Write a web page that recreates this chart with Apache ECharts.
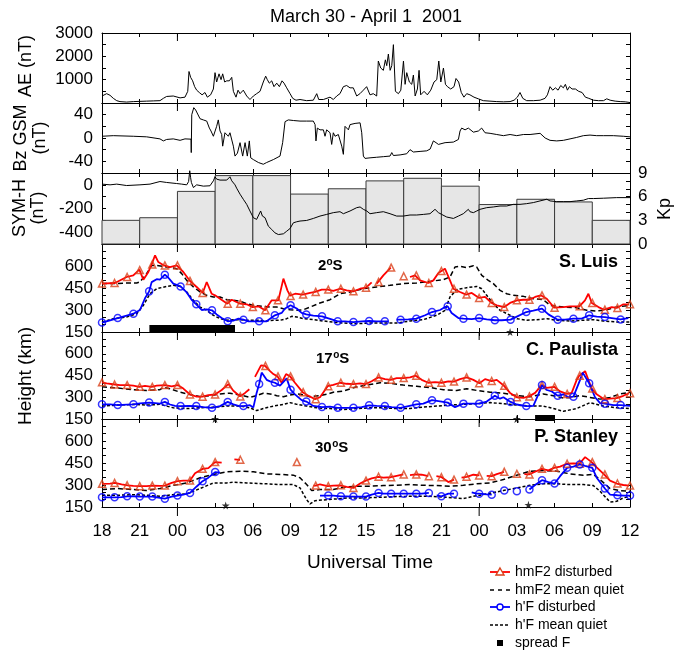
<!DOCTYPE html>
<html>
<head>
<meta charset="utf-8">
<script src="https://cdn.jsdelivr.net/npm/echarts/dist/echarts.min.js"></script>
<style>
html, body { margin: 0; padding: 0; background: #fff; }
#chart { width: 676px; height: 654px; }
</style>
</head>
<body>
<div id="chart"></div>
<script>
// Time is given in hours after 18 UT on 30 March 2001 (0 .. 42 h).
const utTickLabels = ['18','21','00','03','06','09','12','15','18','21','00','03','06','09','12'];
const dayBoundaryHours = [6, 30];

const aeTickLabels = [1000, 2000, 3000];
const bzTickLabels = [-40, 0, 40];
const symTickLabels = [-400, -200, 0];
const kpTickLabels = [0, 3, 6, 9];
const heightTickLabels = [150, 300, 450, 600];

// AE index (nT)
const aeIndex = [[0,300],[0.37,400],[0.64,330],[0.9,200],[1.17,100],[1.43,60],[1.96,40],[2.49,60],[3.02,70],[3.55,80],[4.08,90],[4.61,100],[4.88,200],[5.14,280],[5.67,300],[6.21,220],[6.6,250],[6.82,500],[6.92,1350],[7.05,1100],[7.21,950],[7.37,700],[7.53,550],[7.74,450],[7.96,350],[8.19,450],[8.38,250],[8.64,350],[8.86,600],[8.99,1300],[9.12,900],[9.31,1250],[9.47,1000],[9.6,1250],[9.76,900],[9.92,950],[10.13,950],[10.32,1100],[10.45,500],[10.66,250],[10.82,550],[10.98,400],[11.24,550],[11.51,300],[11.77,150],[12.04,300],[12.3,400],[12.57,500],[12.83,900],[13.02,1150],[13.15,1000],[13.31,850],[13.5,950],[13.68,700],[13.9,850],[14.11,700],[14.32,950],[14.48,850],[14.69,650],[14.96,400],[15.17,200],[15.43,120],[15.75,150],[16.28,100],[16.81,120],[17.08,400],[17.24,150],[17.61,150],[18.14,250],[18.4,150],[18.67,300],[18.93,400],[19.2,700],[19.46,750],[19.73,650],[19.99,650],[20.26,300],[20.52,400],[20.79,550],[21.05,700],[21.32,350],[21.58,400],[21.85,300],[21.98,1800],[22.17,1500],[22.38,1400],[22.54,1850],[22.65,1600],[22.78,2100],[22.92,1400],[23.05,1600],[23.18,2500],[23.34,500],[23.58,400],[23.77,550],[23.98,1800],[24.11,800],[24.24,1300],[24.45,900],[24.64,800],[24.77,1200],[24.91,300],[25.09,600],[25.22,1400],[25.35,350],[25.62,500],[25.88,350],[26.15,550],[26.41,900],[26.63,1000],[26.79,1800],[26.95,900],[27.16,1500],[27.32,800],[27.48,700],[27.74,600],[28.0,700],[28.16,1050],[28.37,900],[28.58,450],[28.79,250],[29.01,400],[29.27,350],[29.59,250],[29.93,180],[30.33,100],[30.86,80],[31.4,60],[31.93,50],[32.46,60],[32.78,120],[33.04,250],[33.25,450],[33.47,200],[33.78,100],[34.32,100],[34.85,120],[35.24,200],[35.43,350],[35.64,700],[35.85,550],[36.07,650],[36.28,550],[36.49,750],[36.7,650],[36.86,800],[37.02,550],[37.18,700],[37.39,600],[37.66,600],[37.92,500],[38.19,450],[38.45,250],[38.72,200],[39.09,120],[39.49,100],[39.89,100],[40.15,180],[40.42,120],[40.82,80],[41.22,60],[41.62,50],[42,20]];

// IMF Bz, GSM (nT)
const bzGsm = [[0,3],[0.9,4],[2.49,3],[3.55,2],[4.61,-1.5],[4.88,-5],[5.14,-2.5],[5.67,-1.5],[6.21,-4],[6.6,-1.5],[7.08,-2],[7.1,-25],[7.14,40],[7.3,52],[7.45,48],[7.58,46],[7.8,33],[8.06,31],[8.33,29],[8.54,17],[8.67,12],[8.86,3],[9.12,20],[9.25,31],[9.39,12],[9.52,6],[9.6,-14],[9.78,9],[10.05,3],[10.18,9],[10.45,-14],[10.58,-31],[10.77,-26],[10.98,-8],[11.19,-31],[11.38,-8],[11.56,-31],[11.72,-5],[11.83,-34],[12.04,-37],[12.44,-42],[12.83,-45],[13.1,-42],[13.63,-37],[14.16,-31],[14.37,-8],[14.56,28],[14.82,31],[15.22,30],[15.75,29],[16.28,29],[16.81,29],[16.95,23],[17.02,-5],[17.13,17],[17.34,14],[17.61,14],[17.74,3],[17.87,14],[18.14,9],[18.27,-11],[18.4,9],[18.54,3],[18.8,6],[19.07,-14],[19.2,-28],[19.33,20],[19.46,21],[19.6,14],[19.73,23],[20.13,25],[20.53,26],[20.66,9],[20.79,-31],[20.92,-35],[21.32,-34],[21.85,-33],[22.38,-32],[22.91,-31],[23.05,-25],[23.18,-30],[23.71,-29],[24.24,-27],[24.5,-20],[24.77,-24],[25.3,-23],[25.83,-22],[26.1,-19],[26.36,-5],[26.57,-8],[26.76,-11],[27.29,-8],[27.95,-7],[28.35,-2.5],[28.48,12],[28.61,17],[28.88,14],[29.14,17],[29.28,15],[29.54,10],[29.94,12],[30.2,17],[30.47,9],[30.87,8],[31.4,6],[31.93,4],[32.46,6],[32.99,4],[33.52,6],[34.05,6],[34.85,8],[35.25,0],[35.64,-4],[36.17,-5],[36.7,-4],[37.23,-1.5],[37.76,1],[38.29,4],[38.82,5],[39.35,4],[39.88,4],[40.68,4],[41.47,3],[42,2]];

// SYM-H index (nT)
const symH = [[0,6],[0.64,0],[1.17,6],[1.96,-6],[3.02,0],[3.82,6],[4.61,28],[5.14,20],[5.94,11],[6.34,6],[6.74,0],[6.89,28],[6.98,119],[7.05,60],[7.11,20],[7.27,-23],[7.53,0],[8.06,-11],[8.59,-8],[8.86,34],[8.99,68],[9.12,48],[9.39,40],[9.92,40],[10.18,68],[10.32,34],[10.58,0],[10.71,-28],[10.98,-79],[11.24,-122],[11.51,-165],[11.77,-221],[12.04,-278],[12.3,-292],[12.44,-278],[12.62,-221],[12.76,-264],[12.97,-278],[13.23,-349],[13.5,-377],[13.76,-406],[14.03,-420],[14.16,-426],[14.43,-414],[14.69,-392],[14.96,-369],[15.22,-321],[15.49,-312],[15.75,-306],[16.28,-301],[16.81,-284],[17.34,-264],[17.87,-250],[18.4,-235],[18.93,-227],[19.2,-244],[19.73,-221],[20.26,-193],[20.53,-187],[20.79,-207],[21.06,-221],[21.32,-244],[21.85,-235],[22.38,-227],[22.91,-244],[23.44,-264],[23.97,-264],[24.5,-255],[25.03,-255],[25.56,-250],[26.09,-244],[26.49,-207],[26.76,-235],[27.02,-250],[27.42,-272],[27.95,-284],[28.35,-264],[28.74,-244],[29.14,-207],[29.27,-227],[29.54,-235],[29.81,-221],[30.07,-207],[30.6,-193],[31.13,-187],[31.66,-179],[32.19,-179],[32.72,-165],[33.25,-165],[33.78,-159],[34.31,-150],[34.84,-136],[35.38,-122],[35.64,-136],[36.17,-142],[36.7,-142],[37.23,-142],[37.76,-136],[38.29,-130],[38.69,-116],[39.09,-116],[39.88,-113],[40.94,-108],[42,-108]];

// 3-hourly Kp
const kpStartHours = [0,3,6,9,12,15,18,21,24,27,30,33,36,39];
const kpValues = [3, 3.33, 6.67, 8.67, 8.67, 6.33, 7, 8, 8.33, 7.33, 5, 5.67, 5.33, 3];
const kpBinHours = 3;

// ---- Sao Luis (2 S) ----
const slHmF2 = [[0,480],[1.03,484],[1.96,525],[2.49,536],[2.97,575],[3.29,507],[3.69,559],[3.95,611],[4.22,673],[4.48,627],[4.93,604],[5.41,593],[5.94,604],[6.47,559],[7.0,498],[7.53,457],[8.01,416],[8.33,491],[8.72,411],[8.99,400],[9.39,377],[9.97,343],[10.32,370],[10.98,343],[11.51,339],[11.99,320],[12.44,325],[12.97,298],[13.5,366],[14.03,366],[14.43,514],[14.75,434],[14.96,398],[15.36,411],[15.96,405],[16.55,416],[16.95,423],[17.48,439],[17.95,439],[18.4,430],[18.93,445],[19.46,434],[20.0,427],[20.53,445],[21.0,452],[21.45,489],null,[21.85,480],[21.98,491],[22.38,536],[22.97,589],null,[24.5,525],[24.9,536],[25.3,502],[25.96,484],[26.36,502],[26.76,552],[27.0,566],[27.28,582],[27.68,502],[27.95,445],[28.48,423],[28.96,405],[29.41,416],[30.0,382],[30.47,389],[31.0,348],[31.4,332],[32.0,320],[32.46,348],[33.0,366],[33.52,370],[34.0,370],[34.45,389],[34.9,400],[35.38,377],[35.96,316],[36.7,320],[37.23,325],[37.97,325],[38.42,366],[38.69,411],[38.96,348],[39.49,320],[39.94,302],[40.55,320],[40.94,314],[41.47,339],[41.93,339]];
const slHmF2Obs = [[0,480],[1,484],[2,525],[3,572],[4,611],[5,604],[6,604],[7,498],[8,416],[10,343],[11,343],[12,320],[13,298],[14,366],[15,395],[16,405],[17,423],[18,439],[19,445],[20,427],[21,452],[22,491],[23,589],[24,530],[25,536],[26,484],[27,566],[28,445],[29,405],[30,382],[31,348],[32,320],[33,366],[34,370],[35,400],[36,316],[38,325],[39,348],[40,302],[41,314],[42,339]];
const slHmF2Quiet = [[0,480],[0.9,480],[1.96,484],[2.76,484],[3.02,491],[3.55,548],[3.95,604],[4.35,604],[4.88,598],[5.41,589],[5.94,582],[6.34,548],[6.74,502],[7.27,457],[7.8,423],[8.33,400],[8.86,389],[9.39,389],[9.92,370],[10.45,366],[10.98,361],[11.51,343],[12.04,332],[12.83,325],[13.37,320],[13.9,320],[14.43,309],[14.96,302],[15.49,298],[16.02,302],[16.55,320],[17.34,348],[18.14,370],[18.93,411],[19.73,423],[20.79,445],[21.85,457],[22.91,468],[23.97,480],[25.03,484],[26.09,495],[27.15,507],[27.68,525],[28.08,593],[28.48,598],[29.01,589],[29.54,602],[29.81,593],[30.21,536],[30.73,502],[31.13,480],[31.66,434],[32.19,411],[32.72,400],[33.52,393],[34.31,377],[35.11,370],[35.64,332],[36.7,320],[37.76,316],[38.56,298],[39.35,293],[40.15,302],[40.94,320],[42,332]];
const slHF = [[0,214],[0.64,230],[1.25,245],[1.96,262],[2.5,275],[3.02,300],[3.42,380],[3.75,427],[3.95,490],[4.35,510],[4.61,507],[5,541],[5.28,520],[5.67,480],[6.25,461],[6.74,420],[7.13,370],[7.5,339],[7.93,300],[8.33,305],[8.75,298],[9.12,270],[9.52,245],[10.0,223],[10.45,228],[10.85,241],[11.25,234],[11.64,222],[12.04,223],[12.5,223],[13.1,223],[13.75,264],[14.29,280],[14.56,310],[15,332],[15.49,310],[15.88,280],[16.25,270],[16.81,262],[17.5,257],[18.14,240],[18.75,223],[19.33,223],[20,218],[20.66,223],[21.25,225],[21.85,223],[22.5,223],[22.78,223],null,[23.44,234],[23.75,234],[24.37,236],[25,241],[25.7,264],[26.25,286],[26.89,300],[27.29,320],[27.5,325],[27.81,280],[28.35,245],[28.75,241],[29.41,238],[30,245],[30.6,236],[31.25,230],[31.8,230],[32.5,234],[33.0,255],[33.75,286],[34.31,295],[35,309],[35.51,270],[36.25,234],[36.83,234],[37.5,241],[38.16,241],[38.75,264],[39.35,255],[40,252],[40.55,245],[41.25,236],[41.87,245]];
const slHFObs = [[0,214],[1.25,245],[2.5,275],[3.75,427],[5,541],[6.25,461],[7.5,339],[8.75,298],[10,223],[11.25,234],[12.5,223],[13.75,264],[15,332],[16.25,270],[17.5,257],[18.75,223],[20,218],[21.25,225],[22.5,223],[23.75,234],[25,241],[26.25,286],[27.5,325],[28.75,241],[30,245],[31.25,230],[32.5,234],[33.75,286],[35,309],[36.25,234],[37.5,241],[38.75,264],[40,252],[41.25,236]];
const slHFQuiet = [[0,218],[0.9,241],[1.96,252],[2.76,275],[3.29,332],[3.82,411],[4.35,445],[5.14,461],[5.67,468],[6.21,461],[6.74,423],[7.27,366],[7.8,320],[8.33,298],[8.86,264],[9.39,241],[9.92,230],[10.45,234],[10.98,234],[11.51,230],[12.04,230],[12.57,230],[13.1,225],[13.63,230],[14.16,230],[14.69,241],[15.09,257],[15.49,252],[16.02,241],[16.81,234],[17.61,225],[18.4,218],[19.2,211],[20.26,207],[21.32,211],[22.38,211],[23.44,211],[24.5,225],[25.56,234],[26.62,264],[27.29,298],[27.68,389],[28.22,439],[29.01,452],[29.81,461],[30.21,445],[30.6,400],[31.13,343],[31.66,298],[32.46,264],[33.0,241],[33.78,230],[34.58,234],[35.38,241],[36.17,230],[37.23,225],[38.29,230],[39.09,234],[39.88,225],[40.94,218],[42,218]];
const slSpreadF = [[3.77, 10.58]];
const slStars = [[32.46, 150]];

// ---- Cachoeira Paulista (17 S) ----
const cpHmF2 = [[0,403],[0.37,396],[1.03,388],[1.43,384],[2.04,384],[2.49,380],[2.97,372],[3.42,378],[3.95,372],[4.35,380],[5.01,384],[5.54,375],[6.02,384],[6.47,360],[7.0,319],[7.53,305],[7.98,304],[8.46,315],[8.99,319],[9.52,350],[10.05,391],[10.45,345],[10.98,306],[11.38,330],[11.72,355],null,[12.17,440],[12.65,520],[12.97,516],[13.37,480],[13.63,460],[13.95,444],[14.29,400],[14.64,460],[14.96,444],[15.35,400],[15.96,335],[16.41,310],[16.95,287],[17.34,300],[17.74,350],[17.95,376],[18.4,385],[18.93,400],[19.46,393],[20.0,391],[20.53,396],[20.98,391],[21.45,410],[21.98,437],[22.51,425],[22.96,420],[23.44,432],[23.97,432],[24.5,437],[24.95,449],[25.43,420],[25.96,400],[26.49,405],[27.02,400],[27.55,410],[28.0,408],[28.48,425],[29.01,437],[29.54,420],[30.02,396],[30.47,425],[31.0,412],[31.4,420],[31.98,379],[32.46,330],[32.99,300],[33.52,295],[33.97,306],[34.45,330],[34.98,384],[35.38,365],[35.96,372],[36.44,340],[36.97,323],[37.36,330],[37.76,420],[37.97,449],[38.43,480],[38.95,360],[39.35,320],[39.94,287],[40.41,290],[40.94,294],[41.47,310],[41.93,328]];
const cpHmF2Obs = [[0,403],[1,388],[2,384],[3,372],[4,372],[5,384],[6,384],[7,319],[8,304],[9,319],[10,391],[11,306],[13,516],[14,444],[15,444],[16,335],[17,287],[18,376],[19,400],[20,391],[21,391],[22,437],[23,420],[24,432],[25,449],[26,400],[27,400],[28,408],[29,437],[30,396],[31,412],[32,379],[33,300],[34,306],[35,384],[36,372],[37,323],[38,449],[39,360],[40,287],[41,294],[42,328]];
const cpHmF2Quiet = [[0,372],[1.17,364],[2.49,352],[3.55,347],[4.61,352],[4.88,367],[5.41,359],[6.21,335],[7.0,319],[7.8,304],[8.59,311],[9.39,323],[10.18,328],[10.98,316],[11.77,299],[12.3,311],[12.83,328],[13.37,323],[13.9,311],[14.43,304],[14.96,316],[15.49,323],[16.02,316],[16.55,304],[17.34,311],[18.01,323],[18.4,335],[19.2,343],[20.26,372],[21.05,384],[22.12,400],[22.91,396],[23.97,384],[25.03,376],[26.09,367],[27.15,352],[28.21,347],[29.01,359],[29.81,347],[30.87,335],[31.93,328],[32.99,311],[34.05,304],[35.11,323],[35.91,311],[36.7,294],[37.23,299],[38.03,311],[38.82,299],[39.62,287],[40.41,299],[41.21,323],[42,335]];
const cpHF = [[0,251],[0.64,251],[1.25,246],[1.96,249],[2.5,251],[3.02,258],[3.75,263],[4.22,260],[4.61,256],[5,268],[5.41,250],[5.81,241],[6.25,239],[6.87,241],[7.5,239],[8.06,232],[8.75,227],[9.39,239],[10,268],[10.45,251],[10.85,241],[11.25,239],[11.77,245],[12.04,230],[12.3,330],[12.5,391],[12.7,470],[13.1,420],[13.37,410],[13.75,400],[14.16,380],[14.69,430],[15,352],[15.35,320],[15.88,280],[16.25,270],[16.81,240],[17.5,232],[18.14,235],[18.75,227],[19.33,227],[20,227],[20.66,232],[21.25,244],[21.85,241],[22.5,239],[23.04,232],[23.75,227],[24.37,239],[25,251],[25.56,256],[26.25,280],[26.89,272],[27.5,263],[28.08,232],[28.75,256],[29.28,256],[30,256],[30.6,270],[31.25,311],[31.66,290],[31.93,300],[32.5,268],[32.99,250],[33.75,239],[34.31,241],[34.71,320],[35,384],[35.38,350],[35.78,340],[36.25,311],[36.7,320],[37.1,300],[37.5,304],[38.03,420],[38.24,470],[38.75,396],[39.22,300],[39.62,260],[40,256],[40.68,246],[41.25,246],[42,240]];
const cpHFObs = [[0,251],[1.25,246],[2.5,251],[3.75,263],[5,268],[6.25,239],[7.5,239],[8.75,227],[10,268],[11.25,239],[12.5,391],[13.75,400],[15,352],[16.25,270],[17.5,232],[18.75,227],[20,227],[21.25,244],[22.5,239],[23.75,227],[25,251],[26.25,280],[27.5,263],[28.75,256],[30,256],[31.25,311],[32.5,268],[33.75,239],[35,384],[36.25,311],[37.5,304],[38.75,396],[40,256],[41.25,246]];
const cpHFQuiet = [[0,239],[1.17,246],[2.49,251],[3.55,246],[4.61,251],[5.67,227],[6.74,222],[7.8,227],[8.86,232],[9.92,239],[10.98,239],[11.77,227],[12.3,208],[12.83,222],[13.63,239],[14.43,251],[14.96,263],[15.49,251],[16.28,239],[17.08,227],[18.14,222],[19.2,215],[20.26,222],[21.32,227],[22.38,227],[23.44,222],[24.5,222],[25.56,232],[26.62,239],[27.68,246],[28.74,251],[29.81,256],[30.87,263],[31.93,256],[32.99,246],[34.05,239],[35.11,239],[35.91,222],[36.7,203],[37.76,222],[38.82,263],[39.88,239],[40.94,227],[42,222]];
const cpSpreadF = [[34.45, 35.96]];
const cpStars = [[8.99, 150], [32.99, 150]];

// ---- Port Stanley (30 S) ----
const psHmF2 = [[0,308],[0.64,310],[1.03,314],[1.56,305],[2.04,298],[2.49,294],[3.02,292],[3.55,292],[4.0,296],[4.61,294],[5.01,296],[5.54,315],[6.02,326],[6.47,330],[7.0,330],[7.4,380],[8.01,410],[8.46,415],[8.99,456],[9.52,452],null,[10.53,475],[10.98,472],null,[16.81,296],[17.02,296],[17.34,305],[17.95,292],[18.4,296],[18.93,298],[19.46,287],[20.0,280],[20.53,310],[20.98,330],[21.45,345],[21.98,356],[22.38,350],[22.96,353],[23.44,362],[23.97,372],null,[24.5,368],[24.95,372],[25.43,370],[25.96,360],null,[26.6,360],[27.02,353],[27.55,320],[28.0,337],null,[28.6,350],[29.01,356],[29.54,370],[30.02,365],null,[30.6,362],[31.0,360],[31.4,374],[31.98,390],null,[33.6,374],[33.97,372],[34.45,390],[34.98,410],[35.51,400],[35.96,417],[36.44,425],[36.97,445],[37.5,448],[37.97,445],[38.43,490],[38.95,456],[39.35,420],[39.94,372],[40.41,330],[40.94,310],[41.47,300],[41.93,296]];
const psHmF2Obs = [[0,308],[1,314],[2,298],[3,292],[4,296],[5,296],[6,326],[7,330],[8,410],[9,456],[11,472],[15.5,456],[17,296],[18,292],[19,298],[20,280],[21,330],[22,356],[23,353],[24,372],[25,372],[26,360],[27,353],[28,337],[29,356],[30,365],[31,360],[32,390],[33,376],[34,372],[35,410],[36,417],[37,445],[38,445],[39,456],[40,372],[41,310],[42,296]];
const psHmF2Quiet = [[0,269],[1.17,276],[2.49,269],[3.55,262],[4.61,276],[5.67,298],[6.74,314],[7.8,349],[8.86,372],[9.92,390],[10.98,394],[12.04,390],[13.1,376],[14.16,372],[15.22,367],[15.75,349],[16.28,303],[16.68,262],[17.34,269],[18.4,269],[19.2,285],[20.26,292],[21.32,292],[22.38,296],[23.44,298],[24.5,303],[25.56,298],[26.62,296],[27.68,292],[28.74,298],[29.81,308],[30.87,314],[31.93,337],[32.99,367],[34.05,394],[35.11,399],[36.17,394],[37.23,376],[38.29,367],[39.09,372],[39.62,337],[40.41,276],[41.21,262],[42,257]];
const psHF = [[0,216],[0.64,216],[1,216],[1.56,218],[2,223],[2.49,223],[3,221],[3.55,221],[4,221],[4.48,214],[5,207],[5.54,220],[6,228],[6.47,235],[7,246],[7.53,290],[8,326],[8.46,350],[9,388],[9.39,385],null,[17.34,228],[18,228],[18.4,228],[19,223],[19.46,223],[20,221],[20.53,221],[21,221],[21.45,235],[22,246],[22.38,241],[23,241],[23.44,241],[24,241],[24.5,241],[25,241],[25.43,241],[26,246],null,[26.62,230],[27,223],[27.55,241],[28,241],null,[29.41,250],[29.81,241],[30,241],[30.6,236],[31,234],null,[34,269],[34.45,300],[35,333],[35.51,320],[36,310],[36.44,360],[37,417],[37.5,425],[38,440],[38.43,430],[39,417],[39.35,350],[40,276],[40.41,235],[41,230],[41.47,228],[42,228]];
const psHFObs = [[0,216],[1,216],[2,223],[3,221],[4,221],[5,207],[6,228],[7,246],[8,326],[9,388],[18,228],[19,223],[20,221],[21,221],[22,246],[23,241],[24,241],[25,241],[26,246],[27,223],[28,241],[30,241],[31,234],[32,262],[33,257],[34,269],[35,333],[36,310],[37,417],[38,440],[39,417],[40,276],[41,230],[42,228]];
const psHFQuiet = [[0,230],[1.17,230],[2.49,234],[3.55,230],[4.61,223],[5.67,234],[6.74,239],[7.8,276],[8.86,314],[9.92,314],[10.45,319],[11.51,314],[13.1,308],[14.16,303],[15.22,303],[15.75,280],[16.28,200],[16.55,171],[16.95,193],[17.87,200],[18.93,207],[19.46,212],[20.79,212],[22.12,216],[23.44,221],[24.77,223],[26.09,223],[27.42,216],[28.74,207],[29.54,223],[30.6,239],[31.93,262],[32.99,280],[34.05,298],[35.11,308],[36.17,308],[37.23,303],[38.29,303],[39.09,296],[39.62,257],[40.41,184],[40.94,189],[41.47,212],[42,223]];
const psStars = [[9.84, 160], [33.92, 165]];

const FONT = '"Liberation Sans", Arial, Helvetica, sans-serif';
const RED = '#ff0000', TRI = '#d9411a', BLUE = '#0000ff';

// panel rectangles (pixels)
const panels = [
  { top: 33, height: 70 },
  { top: 103, height: 70 },
  { top: 173, height: 71 },
  { top: 244, height: 88 },
  { top: 332, height: 87 },
  { top: 419, height: 88 }
];
const grid = panels.map(p => ({ left: 102, width: 528, top: p.top, height: p.height, outerBoundsMode: 'none' }));

const tickStyle = { show: true, inside: true, length: 4, lineStyle: { color: '#000', width: 1 } };
const lineAx = { show: true, onZero: false, lineStyle: { color: '#000', width: 1 } };

const xAxis = [];
panels.forEach((p, i) => {
  const base = { gridIndex: i, type: 'value', min: 0, max: 42, interval: 3,
    axisLine: lineAx, axisTick: tickStyle, splitLine: { show: false } };
  xAxis.push(Object.assign({}, base, { position: 'bottom',
    axisLabel: i === panels.length - 1
      ? { show: true, margin: 16, fontSize: 17, color: '#000', fontFamily: FONT,
          formatter: v => utTickLabels[Math.round(v / 3)] }
      : { show: false } }));
  xAxis.push(Object.assign({}, base, { position: 'top', axisLabel: { show: false } }));
});

function labelOnly(list) {
  return v => list.indexOf(Math.round(v * 100) / 100) >= 0 ? String(v) : '';
}
function yPair(i, min, max, interval, leftLabels, rightLabels) {
  const base = { gridIndex: i, type: 'value', min, max, interval,
    axisLine: lineAx, axisTick: tickStyle, splitLine: { show: false } };
  return [
    Object.assign({}, base, { position: 'left',
      axisLabel: { show: true, margin: 9, fontSize: 17, color: '#000', fontFamily: FONT, formatter: labelOnly(leftLabels) } }),
    Object.assign({}, base, { position: 'right',
      axisLabel: rightLabels
        ? { show: true, margin: 8, fontSize: 17, color: '#000', fontFamily: FONT, formatter: labelOnly(rightLabels) }
        : { show: false } })
  ];
}
const yAxis = [].concat(
  yPair(0, 0, 3000, 500, aeTickLabels),
  yPair(1, -60, 60, 20, bzTickLabels),
  yPair(2, -500, 100, 100, symTickLabels),
  yPair(3, 150, 750, 50, heightTickLabels),
  yPair(4, 150, 750, 50, heightTickLabels),
  yPair(5, 150, 750, 50, heightTickLabels)
);
// Kp scale on the right of the SYM-H panel
yAxis[5] = Object.assign({}, yAxis[5], { min: 0, max: 9, interval: 1,
  axisLabel: { show: true, margin: 8, fontSize: 17, color: '#000', fontFamily: FONT, formatter: labelOnly(kpTickLabels) } });

const withGaps = arr => arr.map(p => p === null ? ['-', '-'] : p);

function trace(gi, data, opts) {
  return Object.assign({ type: 'line', xAxisIndex: 2 * gi, yAxisIndex: 2 * gi, data: withGaps(data),
    showSymbol: false, symbol: 'none', silent: true, connectNulls: false,
    lineStyle: { color: '#000', width: 1 }, z: 3 }, opts || {});
}
function markers(gi, data, symbol, color) {
  return { type: 'scatter', xAxisIndex: 2 * gi, yAxisIndex: 2 * gi, data, symbol, symbolSize: 7, silent: true, z: 4,
    itemStyle: { color: 'rgba(255,255,255,0)', borderColor: color, borderWidth: 1.5 } };
}
const STAR = 'path://M50,0 L61,35 L98,35 L68,57 L79,91 L50,70 L21,91 L32,57 L2,35 L39,35 Z';
function stars(gi, data) {
  return { type: 'scatter', xAxisIndex: 2 * gi, yAxisIndex: 2 * gi, data, symbol: STAR, symbolSize: 8, silent: true, z: 5,
    itemStyle: { color: '#000' } };
}
function spreadF(gi, data, up, down) {
  return { type: 'custom', xAxisIndex: 2 * gi, yAxisIndex: 2 * gi, data, silent: true, z: 5,
    renderItem: (params, api) => {
      const a = api.coord([api.value(0), 150]);
      const b = api.coord([api.value(1), 150]);
      return { type: 'rect', shape: { x: a[0], y: a[1] - up, width: b[0] - a[0], height: up + down }, style: { fill: '#000' } };
    } };
}
function stationSet(gi, hm, hmObs, hmQ, hf, hfObs, hfQ) {
  return [
    trace(gi, hmQ, { lineStyle: { color: '#000', width: 1.5, type: [5, 3] } }),
    trace(gi, hfQ, { lineStyle: { color: '#000', width: 1.5, type: [3, 2] } }),
    trace(gi, hm, { lineStyle: { color: RED, width: 1.8 } }),
    trace(gi, hf, { lineStyle: { color: BLUE, width: 1.8 } }),
    markers(gi, hmObs, 'triangle', TRI),
    markers(gi, hfObs, 'circle', BLUE)
  ];
}
function dayTicks(gi, below) {
  return { type: 'custom', xAxisIndex: 2 * gi, yAxisIndex: 2 * gi, data: dayBoundaryHours.map(h => [h]), silent: true, z: 6,
    renderItem: (params, api) => {
      const cs = params.coordSys;
      const x = api.coord([api.value(0), 0])[0];
      const kids = [{ type: 'line', shape: { x1: x, y1: cs.y, x2: x, y2: cs.y + 8 }, style: { stroke: '#000', lineWidth: 1 } }];
      if (below) kids.push({ type: 'line', shape: { x1: x, y1: cs.y + cs.height, x2: x, y2: cs.y + cs.height + 9 }, style: { stroke: '#000', lineWidth: 1 } });
      return { type: 'group', children: kids };
    } };
}

const series = [
  trace(0, aeIndex),
  trace(1, bzGsm),
  { type: 'custom', xAxisIndex: 4, yAxisIndex: 5, data: kpValues.map((k, i) => [kpStartHours[i], k]), silent: true, z: 1,
    renderItem: (params, api) => {
      const t0 = api.value(0), k = api.value(1);
      const p0 = api.coord([t0, k]);
      const p1 = api.coord([t0 + kpBinHours, 0]);
      return { type: 'rect', shape: { x: p0[0], y: p0[1], width: p1[0] - p0[0], height: p1[1] - p0[1] },
        style: { fill: '#e6e6e6', stroke: '#3a3a3a', lineWidth: 1 } };
    } },
  trace(2, symH, { clip: false }),
  ...stationSet(3, slHmF2, slHmF2Obs, slHmF2Quiet, slHF, slHFObs, slHFQuiet),
  spreadF(3, slSpreadF, 7, 0),
  stars(3, slStars),
  ...stationSet(4, cpHmF2, cpHmF2Obs, cpHmF2Quiet, cpHF, cpHFObs, cpHFQuiet),
  spreadF(4, cpSpreadF, 4, 2),
  stars(4, cpStars),
  ...stationSet(5, psHmF2, psHmF2Obs, psHmF2Quiet, psHF, psHFObs, psHFQuiet),
  stars(5, psStars)
];
for (let i = 0; i < panels.length; i++) series.push(dayTicks(i, i === panels.length - 1));

// ---- text and legend ----
function txt(text, x, y, size) {
  return { type: 'text', x, y, silent: true, z: 10,
    style: { text, fill: '#000', font: size + 'px ' + FONT, align: 'center', verticalAlign: 'middle' } };
}
function vtxt(text, x, y, size, lh) {
  return { type: 'text', x, y, rotation: Math.PI / 2, silent: true, z: 10,
    style: { text, fill: '#000', font: size + 'px ' + FONT, align: 'center', verticalAlign: 'middle', lineHeight: lh || size } };
}
function latLabel(num, x, y) {
  const w = num.length * 8.6;
  return { type: 'group', silent: true, z: 10, children: [
    { type: 'text', x, y, style: { text: num, fill: '#000', font: 'bold 15px ' + FONT, align: 'left', verticalAlign: 'middle' } },
    { type: 'text', x: x + w, y: y - 4, style: { text: 'o', fill: '#000', font: 'bold 10px ' + FONT, align: 'left', verticalAlign: 'middle' } },
    { type: 'text', x: x + w + 6, y, style: { text: 'S', fill: '#000', font: 'bold 15px ' + FONT, align: 'left', verticalAlign: 'middle' } }
  ] };
}
function station(name, y) {
  return { type: 'text', x: 618, y, silent: true, z: 10,
    style: { text: name, fill: '#000', font: 'bold 18px ' + FONT, align: 'right', verticalAlign: 'middle' } };
}

const legendRows = [572, 590, 607, 625, 643];
const legendNames = ['hmF2 disturbed', 'hmF2 mean quiet', "h'F disturbed", "h'F mean quiet", 'spread F'];
const legend = [];
legendNames.forEach((n, i) => {
  legend.push({ type: 'text', x: 515, y: legendRows[i], silent: true, z: 10,
    style: { text: n, fill: '#000', font: '14px ' + FONT, align: 'left', verticalAlign: 'middle' } });
});
legend.push({ type: 'line', silent: true, z: 10, shape: { x1: 490, y1: legendRows[0], x2: 510, y2: legendRows[0] }, style: { stroke: RED, lineWidth: 1.8 } });
legend.push({ type: 'polygon', silent: true, z: 11, shape: { points: [[500, legendRows[0] - 4], [504, legendRows[0] + 3], [496, legendRows[0] + 3]] }, style: { fill: '#fff', stroke: TRI, lineWidth: 1.4 } });
legend.push({ type: 'line', silent: true, z: 10, shape: { x1: 490, y1: legendRows[1], x2: 510, y2: legendRows[1] }, style: { stroke: '#000', lineWidth: 1.5, lineDash: [4, 4] } });
legend.push({ type: 'line', silent: true, z: 10, shape: { x1: 490, y1: legendRows[2], x2: 510, y2: legendRows[2] }, style: { stroke: BLUE, lineWidth: 1.8 } });
legend.push({ type: 'circle', silent: true, z: 11, shape: { cx: 500, cy: legendRows[2], r: 3 }, style: { fill: '#fff', stroke: BLUE, lineWidth: 1.4 } });
legend.push({ type: 'line', silent: true, z: 10, shape: { x1: 490, y1: legendRows[3], x2: 510, y2: legendRows[3] }, style: { stroke: '#000', lineWidth: 1.5, lineDash: [3, 2] } });
legend.push({ type: 'rect', silent: true, z: 10, shape: { x: 497, y: legendRows[4] - 3, width: 6, height: 6 }, style: { fill: '#000' } });

const graphic = [
  txt('March 30 - April 1  2001', 366, 17, 18),
  txt('Universal Time', 370, 563, 19),
  vtxt('AE (nT)', 26, 66, 18),
  vtxt('Bz GSM\n(nT)', 31, 138, 18, 19),
  vtxt('SYM-H\n(nT)', 29, 208, 18, 18),
  vtxt('Height (km)', 26, 376, 19),
  vtxt('Kp', 665, 209, 18),
  station('S. Luis', 262),
  station('C. Paulista', 350),
  station('P. Stanley', 437),
  latLabel('2', 318, 266),
  latLabel('17', 316, 359),
  latLabel('30', 315, 448)
].concat(legend);

const chart = echarts.init(document.getElementById('chart'), null, { renderer: 'canvas' });
chart.setOption({
  animation: false,
  backgroundColor: '#fff',
  textStyle: { fontFamily: FONT },
  grid, xAxis, yAxis, series, graphic
});
</script>
</body>
</html>
